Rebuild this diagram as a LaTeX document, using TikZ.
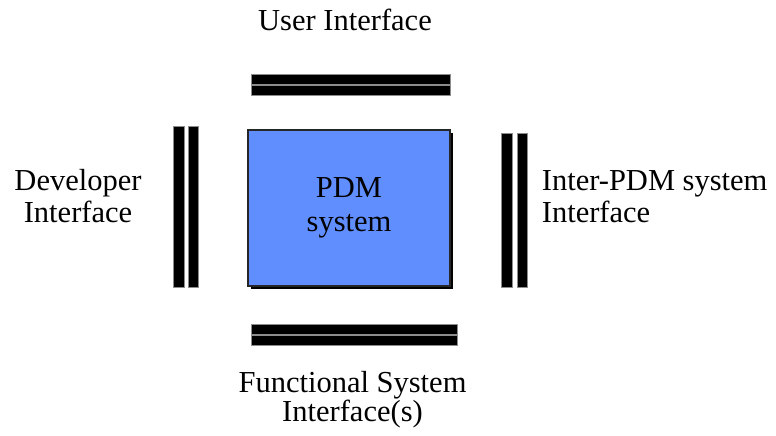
\documentclass[tikz,border=0pt]{standalone}
\usepackage{fontspec}
\setmainfont{Liberation Serif}
\usetikzlibrary{shadows}
\definecolor{pdmblue}{RGB}{97,142,255}
\tikzset{
  lbl/.style={inner sep=0pt, font=\fontsize{30.5}{32}\selectfont},
  bar/.style={rectangle, inner sep=0pt, fill=black, draw=black!45, line width=0.7pt},
  hbar/.style={bar, minimum height=10pt},
  vbar/.style={bar, minimum width=10.5pt},
  sysbox/.style={rectangle, inner sep=0pt, fill=pdmblue, draw=black!85, line width=1.2pt,
    minimum width=202pt, minimum height=156pt, align=center,
    font=\fontsize{30.5}{34.5}\selectfont,
    drop shadow={shadow xshift=3pt, shadow yshift=-2.5pt, fill=black, opacity=1}}
}
\begin{document}
\begin{tikzpicture}[x=1pt, y=-1pt]
  \useasboundingbox (0,0) rectangle (776,436);

  % central system block
  \node[sysbox] (pdm) at (349,208) {PDM\\system};

  % interface bars, two per side
  \node[hbar, minimum width=199pt] (top1) at (350.5,79) {};
  \node[hbar, minimum width=199pt] (top2) at (350.5,90) {};
  \node[hbar, minimum width=206pt] (bot1) at (354,329) {};
  \node[hbar, minimum width=206pt] (bot2) at (354,340.7) {};
  \node[vbar, minimum height=161pt] (left1) at (178.7,206.5) {};
  \node[vbar, minimum height=161pt] (left2) at (193.5,206.5) {};
  \node[vbar, minimum height=154pt] (right1) at (507,210) {};
  \node[vbar, minimum height=154pt] (right2) at (522.3,210) {};

  % interface labels
  \node[lbl, anchor=base] (user) at (345,31) {User Interface};
  \node[lbl, align=center] (dev) at (78,196.3) {Developer\\Interface};
  \node[lbl, align=left, anchor=west] (inter) at (541.7,196.8) {Inter-PDM system\\Interface};
  \node[lbl, align=center, font=\fontsize{30.5}{29}\selectfont] (func) at (352.5,399.4) {Functional System\\Interface(s)};
\end{tikzpicture}
\end{document}
